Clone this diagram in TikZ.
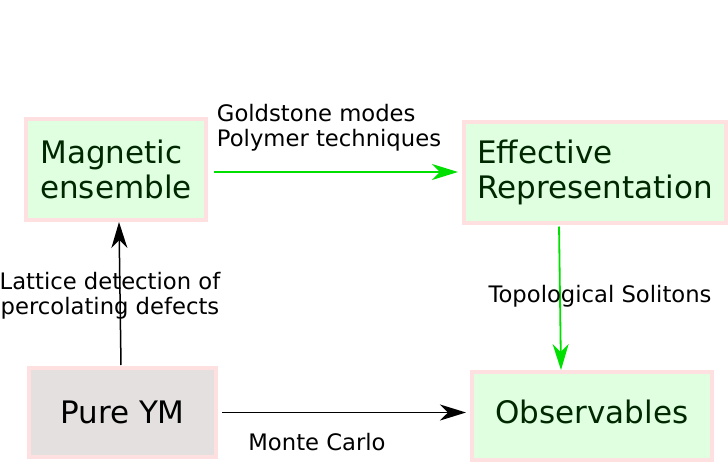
\documentclass[tikz,border=0pt]{standalone}
\usepackage{fontspec}
\setmainfont{DejaVu Sans}
\usepackage{xcolor}
\usetikzlibrary{arrows.meta, positioning}
\definecolor{boxgreen}{HTML}{E0FFE0}
\definecolor{boxgrey}{HTML}{E5E0E0}
\definecolor{edgepink}{HTML}{FFE0E0}
\definecolor{textgreen}{HTML}{002800}
\definecolor{arrowgreen}{HTML}{00E000}
\begin{document}
\begin{tikzpicture}[
  x=1pt, y=-1pt,
  stage/.style={rectangle, draw=edgepink, fill=boxgreen, line width=4pt,
                align=left, text=textgreen, font=\fontsize{31}{35}\selectfont},
  theory/.style={rectangle, draw=edgepink, fill=boxgrey, line width=4pt,
                 align=left, text=black, font=\fontsize{31}{35}\selectfont},
  garr/.style={-{Stealth[length=26pt, width=16pt, inset=8pt]}, line width=1.8pt, draw=arrowgreen},
  karr/.style={-{Stealth[length=26pt, width=16pt, inset=8pt]}, line width=1.5pt, draw=black},
  lbl/.style={font=\fontsize{22.7}{25}\selectfont, text=black, align=left, inner sep=0pt}
]
  \useasboundingbox (0,0) rectangle (728,461);
  \node[stage, minimum width=180pt, minimum height=101pt]  (mag)  at (116,169.5) {Magnetic\\ensemble};
  \node[stage, minimum width=262pt, minimum height=101pt]  (eff)  at (595,172) {Effective\\Representation};
  \node[theory, minimum width=187pt, minimum height=89pt]  (pure) at (122.5,412.5) {Pure YM};
  \node[stage, minimum width=240pt, minimum height=88pt,
        text height=23pt, text depth=9pt]                   (obs)  at (592,416) {Observables};

  \draw[garr, shorten <=6pt, shorten >=4pt] (mag.east |- eff.west) -- node[lbl, above=20pt, xshift=-6pt] (gold) {Goldstone modes\\Polymer techniques} (eff.west);
  \draw[karr, shorten <=1pt] ([xshift=-1.5pt]pure.north) -- node[lbl, align=center, xshift=-10pt, yshift=-2pt] (latt) {Lattice detection of\\percolating defects} ([xshift=3pt]mag.south);
  \draw[garr, shorten <=2pt] ([xshift=-36pt]eff.south) -- node[lbl, xshift=40pt, yshift=1pt] (topo) {Topological Solitons} ([xshift=-31pt]obs.north);
  \draw[karr, shorten <=4pt, shorten >=4pt] (pure.east) -- node[lbl, below=20pt, xshift=-27pt] (mc) {Monte Carlo} (pure.east -| obs.west);
\end{tikzpicture}
\end{document}
